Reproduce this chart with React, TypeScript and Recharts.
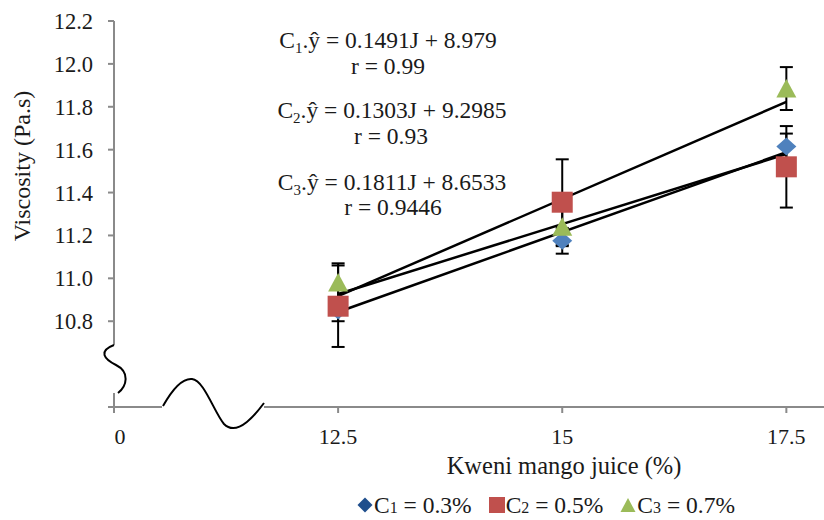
import React from 'react';
import {
  ComposedChart,
  XAxis,
  YAxis,
  Scatter,
  Line,
  ErrorBar,
  Legend,
  Customized,
} from 'recharts';

// ---------- data ----------
const juice = [12.5, 15, 17.5];
const c1Values = [10.85, 11.175, 11.615];
const c2Values = [10.87, 11.355, 11.52];
const c3Values = [10.98, 11.24, 11.885];
const c1Errors = [0.05, 0.06, 0.06];
const c2Errors = [0.19, 0.2, 0.19];
const c3Errors = [0.09, 0.09, 0.1];

const trendX = [12.5, 17.5];
const c1Trend = [10.843, 11.588];
const c2Trend = [10.927, 11.579];
const c3Trend = [10.917, 11.823];

const xTicks = [10, 12.5, 15, 17.5];
const xTickLabels = ['0', '12.5', '15', '17.5'];
const yTicks = [10.8, 11.0, 11.2, 11.4, 11.6, 11.8, 12.0, 12.2];

const seriesSubs = ['1', '2', '3'];
const seriesRest = [' = 0.3%', ' = 0.5%', ' = 0.7%'];
const equationTexts = ['0.1491J + 8.979', '0.1303J + 9.2985', '0.1811J + 8.6533'];
const rTexts = ['0.99', '0.93', '0.9446'];

const xTitle = 'Kweni mango juice (%)';
const yTitle = 'Viscosity (Pa.s)';

// ---------- style ----------
const FONT = '"Liberation Serif", "Times New Roman", serif';
const AXIS = '#8a8a8a';
const TEXT = '#1a1a1a';
const BLUE = '#4F81BD';
const BLUE_DARK = '#1F4E8C';
const RED = '#C0504D';
const GREEN = '#9BBB59';

const W = 824;
const H = 520;
const PLOT_LEFT = 114;
const PLOT_TOP = 21;
const LEGEND_H = 30;
const XAXIS_H = 83;
const PLOT_BOTTOM = H - LEGEND_H - XAXIS_H;

const toData = (vals: number[], errs: number[]) =>
  juice.map((x, i) => ({ x, y: vals[i], err: errs[i] }));
const toTrend = (vals: number[]) => trendX.map((x, i) => ({ x, y: vals[i] }));

const c1Data = toData(c1Values, c1Errors);
const c2Data = toData(c2Values, c2Errors);
const c3Data = toData(c3Values, c3Errors);

// ---------- marker shapes ----------
const Diamond = (p: any) => {
  const { cx, cy } = p;
  if (cx == null || cy == null) return <g />;
  return (
    <polygon
      points={`${cx},${cy - 9} ${cx + 10},${cy} ${cx},${cy + 9} ${cx - 10},${cy}`}
      fill={BLUE}
    />
  );
};
const Square = (p: any) => {
  const { cx, cy } = p;
  if (cx == null || cy == null) return <g />;
  return <rect x={cx - 10.5} y={cy - 10.5} width={21} height={21} fill={RED} />;
};
const Triangle = (p: any) => {
  const { cx, cy } = p;
  if (cx == null || cy == null) return <g />;
  return (
    <polygon
      points={`${cx},${cy - 9.5} ${cx + 10},${cy + 9} ${cx - 10},${cy + 9}`}
      fill={GREEN}
    />
  );
};
const Nothing = () => <g />;

// ---------- ticks ----------
const XTick = (p: any) => {
  const { x, y, payload } = p;
  const i = xTicks.indexOf(payload.value);
  const shift = payload.value === 10 ? 6 : 0;
  return (
    <text x={x + shift} y={y} dy={29} textAnchor="middle" fontFamily={FONT} fontSize={22} fill={TEXT}>
      {i >= 0 ? xTickLabels[i] : ''}
    </text>
  );
};

// ---------- overlay (broken axes, annotations, titles) ----------
const Overlay = () => {
  const eqCenters = [388, 392, 392];
  const eqBase = [48, 118, 190];
  const rCenters = [388, 391, 393];
  const rBase = [74, 144, 215];
  return (
    <g>
      {/* y axis, broken */}
      <line x1={PLOT_LEFT} y1={PLOT_TOP} x2={PLOT_LEFT} y2={345} stroke={AXIS} strokeWidth={2} />
      <line x1={PLOT_LEFT} y1={393} x2={PLOT_LEFT} y2={PLOT_BOTTOM + 3} stroke={AXIS} strokeWidth={2} />
      {/* x axis, broken */}
      <line x1={PLOT_LEFT - 6} y1={PLOT_BOTTOM} x2={162} y2={PLOT_BOTTOM} stroke={AXIS} strokeWidth={2} />
      <line x1={264} y1={PLOT_BOTTOM} x2={W} y2={PLOT_BOTTOM} stroke={AXIS} strokeWidth={2} />
      {/* break squiggles */}
      <path
        d="M114,345 C98,351 104,359 116,365 C130,372 127,386 118,393"
        fill="none"
        stroke="#000"
        strokeWidth={2}
      />
      <path
        d="M163,406 C172,390 182,378 192,379 C204,380 214,412 224,424 C232,432 244,430 264,403"
        fill="none"
        stroke="#000"
        strokeWidth={2}
      />
      {/* equations */}
      {equationTexts.map((t, i) => (
        <g key={i}>
          <text x={eqCenters[i]} y={eqBase[i]} textAnchor="middle" fontFamily={FONT} fontSize={23.5} fill={TEXT}>
            C
            <tspan fontSize={15} dy={5}>
              {seriesSubs[i]}
            </tspan>
            <tspan dy={-5}>{'.ŷ = ' + t}</tspan>
          </text>
          <text x={rCenters[i]} y={rBase[i]} textAnchor="middle" fontFamily={FONT} fontSize={23.5} fill={TEXT}>
            {'r = ' + rTexts[i]}
          </text>
        </g>
      ))}
      {/* axis titles */}
      <text
        transform="translate(22,166) rotate(-90)"
        textAnchor="middle"
        dominantBaseline="central"
        fontFamily={FONT}
        fontSize={24}
        fill={TEXT}
      >
        {yTitle}
      </text>
      <text x={564} y={474} textAnchor="middle" fontFamily={FONT} fontSize={24.5} fill={TEXT}>
        {xTitle}
      </text>
    </g>
  );
};

// ---------- legend ----------
const legendIcons = [
  <svg width={16} height={16} key="d">
    <polygon points="8,0.5 15.5,8 8,15.5 0.5,8" fill={BLUE_DARK} />
  </svg>,
  <svg width={16} height={16} key="s">
    <rect x={0} y={0} width={16} height={16} fill={RED} />
  </svg>,
  <svg width={16} height={16} key="t">
    <polygon points="8,1 15.5,15 0.5,15" fill={GREEN} />
  </svg>,
];

const LegendContent = () => (
  <div
    style={{
      height: LEGEND_H,
      display: 'flex',
      alignItems: 'center',
      paddingLeft: 357,
      fontFamily: FONT,
      fontSize: 23.5,
      color: TEXT,
      whiteSpace: 'nowrap',
    }}
  >
    {seriesRest.map((rest, i) => (
      <div key={i} style={{ display: 'flex', alignItems: 'center', marginRight: 17 }}>
        {legendIcons[i]}
        <span style={{ marginLeft: 1 }}>
          C<span style={{ fontSize: 16 }}>{seriesSubs[i]}</span>
          {rest}
        </span>
      </div>
    ))}
  </div>
);

export default function App() {
  return (
    <div style={{ position: 'absolute', left: 0, top: 0, width: W, height: H, background: '#fff' }}>
      <ComposedChart
        width={W}
        height={H}
        margin={{ top: PLOT_TOP, right: 0, bottom: 0, left: 0 }}
      >
        <XAxis
          type="number"
          dataKey="x"
          domain={[10, 17.92]}
          ticks={xTicks}
          allowDataOverflow
          height={XAXIS_H}
          axisLine={false}
          tickLine={{ stroke: AXIS, strokeWidth: 2 }}
          tickSize={6}
          tickMargin={2}
          tick={<XTick />}
          interval={0}
        />
        <YAxis
          type="number"
          dataKey="y"
          domain={[10.4, 12.2]}
          ticks={yTicks}
          allowDataOverflow
          width={PLOT_LEFT}
          axisLine={false}
          tickLine={{ stroke: AXIS, strokeWidth: 2 }}
          tickSize={6}
          tickMargin={15}
          tickFormatter={(v: number) => v.toFixed(1)}
          tick={{ fontFamily: FONT, fontSize: 22.5, fill: TEXT }}
          interval={0}
        />
        <Legend
          verticalAlign="bottom"
          height={LEGEND_H}
          wrapperStyle={{ left: 0, width: W }}
          content={<LegendContent />}
        />
        <Customized component={<Overlay />} />

        {/* error bars first (behind all markers) */}
        <Scatter data={c1Data} shape={<Nothing />} isAnimationActive={false} legendType="none">
          <ErrorBar dataKey="err" direction="y" width={6.5} stroke="#000" strokeWidth={2} isAnimationActive={false} />
        </Scatter>
        <Scatter data={c2Data} shape={<Nothing />} isAnimationActive={false} legendType="none">
          <ErrorBar dataKey="err" direction="y" width={6.5} stroke="#000" strokeWidth={2} isAnimationActive={false} />
        </Scatter>
        <Scatter data={c3Data} shape={<Nothing />} isAnimationActive={false} legendType="none">
          <ErrorBar dataKey="err" direction="y" width={6.5} stroke="#000" strokeWidth={2} isAnimationActive={false} />
        </Scatter>

        {/* markers */}
        <Scatter name="C1" data={c1Data} shape={<Diamond />} isAnimationActive={false} />
        <Scatter name="C2" data={c2Data} shape={<Square />} isAnimationActive={false} />
        <Scatter name="C3" data={c3Data} shape={<Triangle />} isAnimationActive={false} />

        {/* trend lines */}
        <Line data={toTrend(c1Trend)} dataKey="y" stroke="#000" strokeWidth={2.5} dot={false} activeDot={false} isAnimationActive={false} legendType="none" />
        <Line data={toTrend(c2Trend)} dataKey="y" stroke="#000" strokeWidth={2.5} dot={false} activeDot={false} isAnimationActive={false} legendType="none" />
        <Line data={toTrend(c3Trend)} dataKey="y" stroke="#000" strokeWidth={2.5} dot={false} activeDot={false} isAnimationActive={false} legendType="none" />
      </ComposedChart>
    </div>
  );
}
